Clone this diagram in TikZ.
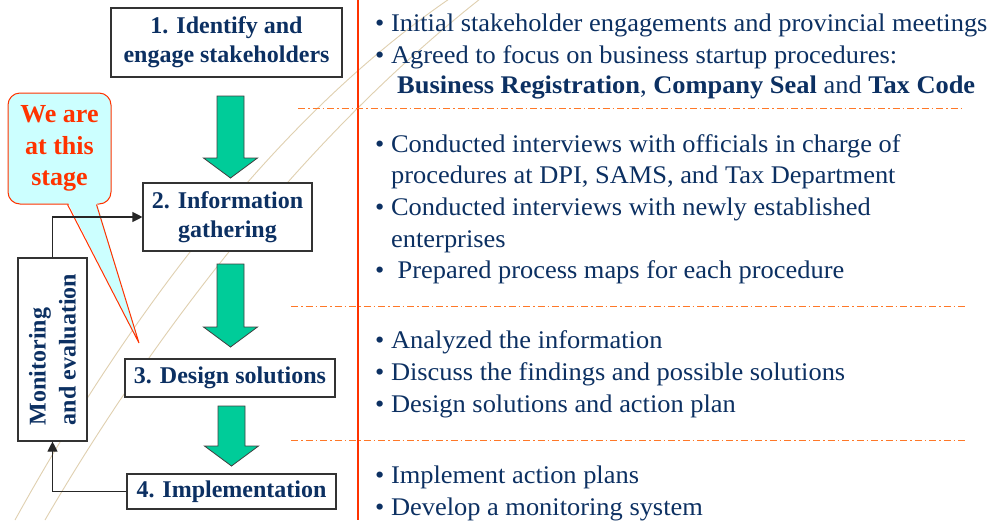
\documentclass[tikz,border=0pt]{standalone}
\usepackage{fontspec}
\setmainfont{Liberation Serif}
\newfontfamily\notefont[FakeStretch=1.04]{Liberation Serif}
\usetikzlibrary{arrows.meta,calc}

\definecolor{navy}{RGB}{12,48,98}
\definecolor{seagreen}{RGB}{0,204,153}
\definecolor{calloutfill}{RGB}{204,255,255}
\definecolor{redorange}{RGB}{255,51,0}
\definecolor{dashorange}{RGB}{255,120,40}
\definecolor{beige}{RGB}{224,208,176}

% green block arrow from top centre #1 to tip #2
\newcommand{\stagearrow}[2]{%
  \draw[blockarrow] ($(#1)+(-13.5,0)$) -- ($(#1)+(13.5,0)$) -- ($(#2)+(13.5,-20)$)
    -- ($(#2)+(27,-20)$) -- (#2) -- ($(#2)+(-27,-20)$) -- ($(#2)+(-13.5,-20)$) -- cycle;}

\begin{document}
\begin{tikzpicture}[
  x=1pt, y=-1pt,
  >={Triangle[length=10pt,width=10pt]},
  stage/.style = {
    draw=black!80, line width=1.1pt,
    fill=white, text=navy,
    align=center, inner sep=0pt,
    font=\fontsize{24}{29}\selectfont\bfseries
  },
  bullet/.style = {anchor=base west, inner sep=0pt, text=navy,
    font=\notefont\fontsize{25.4}{30}\selectfont},
  blockarrow/.style = {draw=black!75, line width=0.8pt, fill=seagreen},
  sep/.style = {dashorange, line width=1pt, dash pattern=on 7pt off 3pt on 1.5pt off 3pt},
  loop/.style = {->, line width=1.1pt, black!85},
  callout/.style = {draw=redorange, line width=1pt, fill=calloutfill, text=redorange,
    rounded corners=12pt, align=center, inner sep=0pt,
    font=\fontsize{26}{31.5}\selectfont\bfseries}
]

% ---- canvas ----
\useasboundingbox[fill=white] (0,0) rectangle (997,520);

% background swooshes
\draw[beige, line width=0.9pt] (15,520) .. controls (120,330) and (270,120) .. (455,-5);
\draw[beige, line width=0.9pt] (45,520) .. controls (150,340) and (300,140) .. (485,-5);

% ---- left: stages ----
\node[stage, minimum width=231pt, minimum height=69pt] (identify) at (226.5,42.5) {1. Identify and\\engage stakeholders};
\node[stage, minimum width=169pt, minimum height=68pt] (gather) at (227.5,217) {2. Information\\gathering};
\node[stage, minimum width=210pt, minimum height=38pt] (design) at (230,378) {3. Design solutions};
\node[stage, minimum width=209pt, minimum height=35pt] (implement) at (231.5,491.5) {4. Implementation};
\node[stage, rotate=90, align=left, minimum width=183pt, minimum height=69pt,
  font=\fontsize{24}{30}\selectfont\bfseries] (monitor) at (52.5,349.5) {Monitoring\\and evaluation};

% green arrows between stages
\coordinate (a1s) at (230.5,96);  \coordinate (a1e) at (230.5,178);
\coordinate (a2s) at (230.5,264); \coordinate (a2e) at (230.5,347);
\coordinate (a3s) at (231.5,406); \coordinate (a3e) at (231.5,466);
\stagearrow{a1s}{a1e}
\stagearrow{a2s}{a2e}
\stagearrow{a3s}{a3e}

% callout
\node[callout, minimum width=103pt, minimum height=111pt] (stage) at (59.5,148.5) {We are\\at this\\stage};
\coordinate (tailtip) at (139,343);
\fill[calloutfill] ($(stage.south west)+(60,-3)$) -- (tailtip) -- ($(stage.south west)+(89,-3)$) -- cycle;
\draw[redorange, line width=1pt] ($(stage.south west)+(60,0)$) -- (tailtip) -- ($(stage.south west)+(89,0)$);

% monitoring loop
\draw[loop] (monitor.east) |- (gather.west);
\draw[loop] (implement.west) -| (monitor.west);

% ---- right: notes ----
\draw[redorange, line width=1.2pt] (358,0) -- (358,520);
\draw[sep] (298,108) -- (965,108);
\draw[sep] (291,306) -- (965,306);
\draw[sep] (291,440) -- (965,440);

\node[bullet] (t1) at (375,31) {• Initial stakeholder engagements and provincial meetings};
\node[bullet] (t2) at (375,63) {• Agreed to focus on business startup procedures:};
\node[bullet] (t3) at (397,93) {\textbf{Business Registration}, \textbf{Company Seal} and \textbf{Tax Code}};

\node[bullet] (t4) at (375,152) {• Conducted interviews with officials in charge of};
\node[bullet] (t5) at (391,183) {procedures at DPI, SAMS, and Tax Department};
\node[bullet] (t6) at (375,215) {• Conducted interviews with newly established};
\node[bullet] (t7) at (391,247) {enterprises};
\node[bullet] (t8) at (375,278) {•\ \ Prepared process maps for each procedure};

\node[bullet] (t9) at (375,348) {• Analyzed the information};
\node[bullet] (t10) at (375,380) {• Discuss the findings and possible solutions};
\node[bullet] (t11) at (375,412) {• Design solutions and action plan};

\node[bullet] (t12) at (375,483) {• Implement action plans};
\node[bullet] (t13) at (375,515) {• Develop a monitoring system};

\end{tikzpicture}
\end{document}
